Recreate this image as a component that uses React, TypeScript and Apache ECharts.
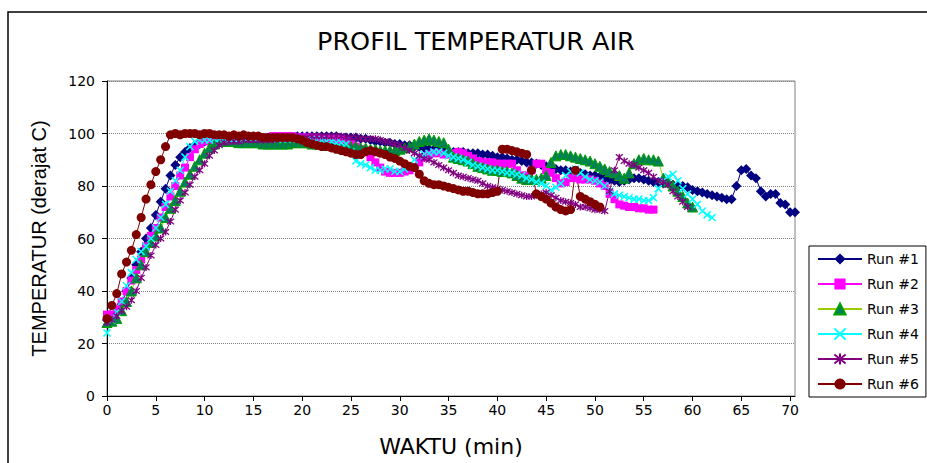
import React, { useEffect, useRef } from "react";
import * as echarts from "echarts";

// sampling step of every run (minutes)
const STEP = 0.5;

const RUN1 = [
  29, 30, 32, 35, 40, 45, 50, 55, 60, 64, 69, 74, 79, 84, 88, 91, 93, 94.5, 95.5, 96, 97,
  97, 97.5, 97.5, 97.5, 97, 97, 97, 97, 97, 97.5, 97.5, 97.5, 98, 98, 98, 98, 98.5, 98.5, 99, 99, 99, 99, 99, 99, 99, 99, 99, 98.5, 98.5, 98.5,
  98.5, 98, 98, 97.5, 97, 97, 96.5, 96.5, 96, 96, 95.5, 95.5, 95, 95, 94.5, 94, 94, 93.5, 93.5, 93,
  93, 93, 93, 92.5, 92.5, 92.5, 92, 92, 91.5, 91, 91, 90.5, 90, 90, 89.5, 89, 89, 88.5, 88, 87.5,
  87, 86.5, 86, 86, 85.5, 85, 85, 84.5, 84, 84, 83.5, 83, 82.5, 82, 81.5, 82, 82.5, 83, 83, 82.5, 82, 81.5, 81.5, 81, 81, 80.5, 80, 80, 79.5, 78.5, 78, 77.5, 77, 76.5, 76, 75.5, 75, 75,
  80, 86, 86.5, 84, 83, 78, 76, 77, 77, 73.5, 73, 70, 70,
];

const RUN2 = [
  31, 31, 33, 36, 40, 44, 48, 52, 57, 61, 64, 68, 72, 76, 80, 84, 87, 91, 94, 96, 97,
  97.5, 97.5, 98, 98, 98, 98, 98, 98, 98, 98, 98, 98.5, 98.5, 99, 99, 99, 99, 99, 98.5, 98.5, 98.5, 98.5, 98.5, 98, 98, 98, 97.5, 98,
  97, 96, 95, 94, 93, 91, 89, 87, 85.5, 85, 85, 85, 85.5, 86, 87, 89, 91, 92, 92.5, 92.5, 92, 92,
  92.5, 93, 92.5, 91.5, 90.5, 89.5, 89, 89, 89, 88.5, 88.5, 88.5, 88.5, 86, 84, 84, 86, 88.5, 88.5, 86,
  85, 83, 81, 81.5, 83, 83, 82.5, 82.5, 82.5, 82, 81, 80, 77, 75, 73, 72.5, 72, 72, 71.5, 71.5, 71, 71,
];

const RUN3 = [
  28, 28.5, 29.5, 32.5, 36, 40, 45, 50, 55, 58.5, 61, 64, 68, 71.5, 74.5, 78, 81.5, 84.5, 87.5, 90, 92.5, 94.5, 96, 97, 97,
  97, 97, 96.5, 96.5, 96.5, 96.5, 96.5, 96, 96, 96, 96, 96, 96, 96.5, 96.5, 96.5, 96.5, 96, 96, 96, 95.5, 95.5, 95, 95, 95, 95,
  95, 94.5, 94.5, 94, 94, 93.5, 93.5, 93.5, 93.5, 94, 94.5, 95, 96, 97, 97.5, 98, 97.5, 97, 96.5, 94, 91, 90.5,
  90, 89.5, 88.5, 87.5, 87, 86.5, 86, 86, 85.5, 85.5, 85, 84, 83, 82.5, 82.5, 82.5, 83, 84,
  89, 91.5, 92, 92, 91.5, 91, 90.5, 90, 89.5, 88.5, 87.5, 86.5, 85.5, 85, 84, 83, 85, 88.5, 90, 90.5, 90, 90,
  89.5, 83, 81.5, 80, 78, 76, 73.5, 72,
];

const RUN4 = [
  24, 29, 32, 36, 42, 47, 52, 55, 57, 60, 64, 68, 73, 78, 82, 86, 91, 95, 97, 97.5, 97.5,
  97.5, 98, 98, 98, 98, 98, 98, 98, 98.5, 98.5, 98.5, 98.5, 98.5, 98.5, 98, 98, 98, 98, 98, 98, 97.5, 97.5, 97.5, 97.5, 97, 97, 96.5, 96.5,
  96, 93, 89.5, 88.5, 88, 87, 86, 86, 86.5, 86.5, 85.5, 85.5, 86.5, 88,
  90, 91.5, 92, 92.5, 93, 93, 92.5, 91.5, 91, 90.5, 90, 89, 88, 87.5, 87, 86.5, 86, 86, 85.5, 85, 85, 84.5, 84, 83, 82.5, 81.5, 81, 80,
  78.5, 79.5, 81, 84, 85.5, 86.5, 85, 83.5, 82.5, 82, 81.5, 80, 78, 77, 76.5, 76, 75.5, 75, 75, 74.5, 74.5, 75.5, 79, 82, 83.5, 84.5, 82, 79, 77, 75, 73, 70.5, 69, 68,
];

const RUN5 = [
  28, 29, 30.5, 32.5, 34, 36.5, 40, 45, 49, 53.5, 57.5, 60, 62.5, 66.5, 71, 74.5, 77.5, 80.5, 83.5, 86, 88.5, 91.5, 93.5, 95.5, 96.5,
  97, 97, 97, 97.5, 97.5, 97.5, 97.5, 97.5, 97.5, 97.5, 98, 98, 98, 98, 98.5, 98.5, 98.5, 99, 99, 99, 99, 99, 99, 99, 98.5, 98.5,
  98.5, 98, 98, 98, 98, 97.5, 97, 96.5, 96, 95.5, 94.5, 93.5, 92.5, 91.5, 90.5, 90, 89, 88, 87, 86, 85, 84,
  83.5, 83, 82.5, 82, 81, 80, 79.5, 79, 78.5, 78, 77.5, 77, 76.5, 76, 76, 76.5, 77, 77.5, 76.5, 75.5, 74.5, 74, 73.5, 73, 72, 72, 71.5, 71, 71, 70.5,
  78, 86, 91, 89.5, 88.5, 88, 87, 86, 85, 83.5, 82, 81.5, 80.5, 78, 76, 74, 72,
];

const RUN6 = [
  29.5, 34.5, 39, 46.5, 51, 55.5, 61.5, 68, 75, 80.5, 85.5, 90, 95, 99.5, 100,
  99.5, 100, 100, 100, 99.5, 100, 100, 99.5, 99.5, 99.5, 99, 99.5, 99, 99.5, 99, 99, 99, 98.5, 98.5, 98.5, 98.5, 98.5,
  98.5, 98.5, 98, 97.5, 96.5, 96, 95.5, 95, 95, 94.5, 94, 93.5, 93, 92.5, 92, 92, 93, 93.5, 93, 92.5, 92, 91, 90.5, 89.5, 88.5, 87.5, 87, 84.5, 82, 81, 80.5, 80.5, 80, 79.5, 79, 78.5, 78, 78, 77.5, 77, 77,
  77, 77.5, 78, 94, 94, 93.5, 93, 92.5, 92, 86, 77, 76, 75, 73.5, 72, 71, 70.5, 71, 86, 76, 75, 74, 73, 72,
];

const RUN_NAMES = ["Run #1", "Run #2", "Run #3", "Run #4", "Run #5", "Run #6"];
const X_TICKS = [0, 5, 10, 15, 20, 25, 30, 35, 40, 45, 50, 55, 60, 65, 70];

const CROSS = "path://M0,0L10,10M10,0L0,10";
const STAR = "path://M0,1L10,9M10,1L0,9M5,0L5,10";

const FONT = "DejaVu Sans";

function toPoints(values: number[]) {
  return values.map((v, i) => [i * STEP, v]);
}

export default function App() {
  const ref = useRef<HTMLDivElement>(null);

  useEffect(() => {
    document.body.style.margin = "0";
    if (!ref.current) return;
    const chart = echarts.init(ref.current, undefined, { renderer: "svg" });

    const mk = (
      name: string,
      values: number[],
      line: string,
      symbol: string,
      size: number,
      fill: string,
      border: string,
      borderWidth: number
    ) => ({
      name,
      type: "line",
      data: toPoints(values),
      symbol,
      symbolSize: size,
      showSymbol: true,
      showAllSymbol: true,
      silent: true,
      lineStyle: { color: line, width: 1 },
      itemStyle: { color: fill, borderColor: border, borderWidth },
      emphasis: { disabled: true },
    });

    chart.setOption({
      animation: false,
      backgroundColor: "#ffffff",
      title: {
        text: "PROFIL TEMPERATUR AIR",
        left: 312,
        top: 23,
        textStyle: { fontFamily: FONT, fontSize: 25.5, fontWeight: "normal", color: "#000" },
      },
      graphic: [
        {
          type: "rect",
          shape: { x: 8, y: 12, width: 1000, height: 1000 },
          style: { fill: "none", stroke: "#000", lineWidth: 1.5 },
          z: -1,
          silent: true,
        },
      ],
      legend: {
        data: RUN_NAMES,
        orient: "vertical",
        left: 809,
        top: 246,
        itemWidth: 44,
        itemHeight: 14,
        itemGap: 11,
        padding: [6, 7, 6, 8],
        borderColor: "#000",
        borderWidth: 1,
        backgroundColor: "#fff",
        textStyle: { fontFamily: FONT, fontSize: 14, color: "#000" },
        selectedMode: false,
      },
      grid: {
        left: 107,
        top: 81,
        width: 688,
        height: 315,
        show: true,
        borderColor: "#808080",
        borderWidth: 1,
        containLabel: false,
      },
      xAxis: {
        type: "value",
        min: 0,
        max: 70.5,
        interval: 5,
        name: "WAKTU (min)",
        nameLocation: "middle",
        nameGap: 39,
        nameTextStyle: { fontFamily: FONT, fontSize: 22, color: "#000" },
        axisLine: { show: true, onZero: false, lineStyle: { color: "#000", width: 1 } },
        axisTick: { show: true, length: 5, customValues: X_TICKS, lineStyle: { color: "#000" } },
        axisLabel: {
          customValues: X_TICKS,
          fontFamily: FONT,
          fontSize: 14,
          color: "#000",
          margin: 7,
          formatter: (v: number) => (v % 5 === 0 ? String(v) : ""),
        },
        splitLine: { show: false },
      },
      yAxis: {
        type: "value",
        min: 0,
        max: 120,
        interval: 20,
        name: "TEMPERATUR (derajat C)",
        nameLocation: "middle",
        nameRotate: 90,
        nameGap: 58,
        nameTextStyle: { fontFamily: "Liberation Sans", fontSize: 20, color: "#000" },
        axisLine: { show: true, lineStyle: { color: "#000", width: 1 } },
        axisTick: { show: true, length: 5, lineStyle: { color: "#000" } },
        axisLabel: { fontFamily: FONT, fontSize: 14, color: "#000", margin: 12 },
        splitLine: { show: true, lineStyle: { color: "#808080", type: "dotted", width: 1 } },
      },
      series: [
        mk(RUN_NAMES[0], RUN1, "#000080", "diamond", 10, "#000080", "#000080", 0),
        mk(RUN_NAMES[1], RUN2, "#FF00FF", "rect", 8, "#FF00FF", "#FF00FF", 0),
        mk(RUN_NAMES[2], RUN3, "#99CC00", "triangle", 10, "#007F5A", "#00A000", 1),
        mk(RUN_NAMES[3], RUN4, "#00FFFF", CROSS, 7, "#00FFFF", "#00FFFF", 1.5),
        mk(RUN_NAMES[4], RUN5, "#800080", STAR, 7, "#800080", "#800080", 1.3),
        mk(RUN_NAMES[5], RUN6, "#800000", "circle", 9, "#800000", "#800000", 0),
      ],
    });

    return () => chart.dispose();
  }, []);

  return <div ref={ref} style={{ width: 927, height: 463 }} />;
}
